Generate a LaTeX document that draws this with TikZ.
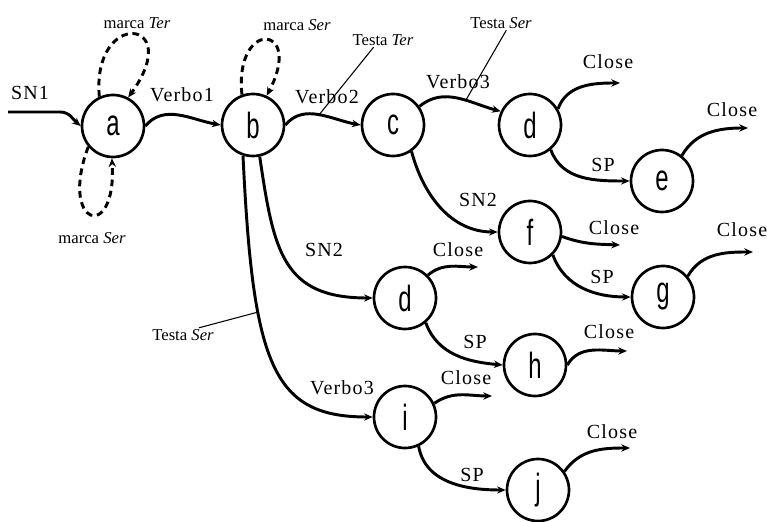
\documentclass[tikz,border=0pt]{standalone}
\usepackage{fontspec}
\setmainfont{Liberation Serif}
\newfontfamily\letterfont{Liberation Sans}
\newfontfamily\labelfont[LetterSpace=6]{Liberation Serif}
\usetikzlibrary{arrows.meta}
% tall narrow state letters
\newcommand\stlet[1]{\scalebox{0.92}[1.4]{#1}}
\begin{document}
\begin{tikzpicture}[x=0.75pt,y=0.75pt,
  state/.style={circle,draw,line width=2pt,minimum size=46.5pt,inner sep=0pt,
    font=\letterfont\fontsize{19.5}{19.5}\selectfont},
  lbl/.style={font=\labelfont\fontsize{15}{15}\selectfont,inner sep=1pt},
  note/.style={font=\fontsize{12.5}{12.5}\selectfont,inner sep=1pt},
  edge/.style={line width=2.2pt,-{Stealth[length=6.5pt,width=5.5pt]}},
  loopedge/.style={edge,dash pattern=on 5pt off 3.5pt},
  pointer/.style={line width=0.8pt},
]
\useasboundingbox (0,0) rectangle (767,521);

% states
\node[state] (a)  at (113,395) {\stlet{a}};
\node[state] (b)  at (253,396) {\stlet{b}};
\node[state] (c)  at (393,396) {\stlet{c}};
\node[state] (d)  at (530,396) {\stlet{d}};
\node[state] (e)  at (662,340) {\stlet{e}};
\node[state] (f)  at (530,289) {\stlet{f}};
\node[state] (g)  at (663,224) {\stlet{g}};
\node[state] (d2) at (405,223) {\stlet{d}};
\node[state] (h)  at (535,156) {\stlet{h}};
\node[state] (i)  at (405,104) {\stlet{i}};
\node[state] (j)  at (538,31)  {\stlet{j}};

% free ends
\coordinate (in0) at (8,409);
\coordinate (inb) at (60,409);
\coordinate (cd)  at (620,438);
\coordinate (ce)  at (748,393);
\coordinate (cf)  at (620,276);
\coordinate (cg)  at (753,269);
\coordinate (cd2) at (478,254);
\coordinate (ch)  at (627,170);
\coordinate (ci)  at (492,125);
\coordinate (cj)  at (630,73);

% labels
\node[lbl] (lsn1)  at (30,428)  {SN1};
\node[lbl] (lv1)   at (182,426) {Verbo1};
\node[lbl] (lv2)   at (327,424) {Verbo2};
\node[lbl] (lv3)   at (458,439) {Verbo3};
\node[lbl] (lcd)   at (608,459) {Close};
\node[lbl] (lspe)  at (603,356) {SP};
\node[lbl] (lce)   at (732,411) {Close};
\node[lbl] (lsn2f) at (478,321) {SN2};
\node[lbl] (lcf)   at (614,293) {Close};
\node[lbl] (lcg)   at (742,291) {Close};
\node[lbl] (lspg)  at (602,244) {SP};
\node[lbl] (lcd2)  at (458,271) {Close};
\node[lbl] (lsn2)  at (324,271) {SN2};
\node[lbl] (lsph)  at (475,179) {SP};
\node[lbl] (lch)   at (609,189) {Close};
\node[lbl] (lv3b)  at (342,133) {Verbo3};
\node[lbl] (lci)   at (466,143) {Close};
\node[lbl] (lspj)  at (472,46)  {SP};
\node[lbl] (lcj)   at (612,89)  {Close};

\node[note] (mTa) at (137,498) {marca \textit{Ter}};
\node[note] (mSa) at (92,283)  {marca \textit{Ser}};
\node[note] (mSb) at (297,496) {marca \textit{Ser}};
\node[note] (tT)  at (383,481) {Testa \textit{Ter}};
\node[note] (tS)  at (501,498) {Testa \textit{Ser}};
\node[note] (tSl) at (183,186) {Testa \textit{Ser}};

% main transitions
\draw[edge] (in0) -- (inb) to[out=0,in=140] (a.west);
\draw[edge] (a.east) to[out=50,in=170] (b.west);
\draw[edge] (b.east) to[out=50,in=170] coordinate[pos=0.5] (pv2) (c.west);
\draw[edge] (c.35) to[out=40,in=165] coordinate[pos=0.6] (pv3) (d.155);
\draw[edge] (c.-55) to[out=-75,in=180] (f.west);
\draw[edge] (d.-50) to[out=-70,in=180] (e.west);
\draw[edge] (f.-45) to[out=-70,in=180] (g.west);
\draw[edge] (b.-78) .. controls +(14,-95) and +(-90,0) .. (d2.west);
\draw[edge] (b.252) .. controls +(10,-210) and +(-100,0) .. coordinate[pos=0.32] (pv3b) (i.west);
\draw[edge] (d2.-50) to[out=-70,in=175] (h.west);
\draw[edge] (i.-65) to[out=-80,in=180] (j.west);

% closing transitions
\draw[edge] (d.30)   to[out=70,in=180] (cd);
\draw[edge] (e.52)   to[out=60,in=180] (ce);
\draw[edge] (f.-8)   to[out=-20,in=178] (cf);
\draw[edge] (g.40)   to[out=60,in=180] (cg);
\draw[edge] (d2.45)  to[out=40,in=180] (cd2);
\draw[edge] (h.east) to[out=60,in=180] (ch);
\draw[edge] (i.25)   to[out=35,in=180] (ci);
\draw[edge] (j.35)   to[out=55,in=180] (cj);

% marker loops
\draw[loopedge] (a.115) .. controls +(-8,88) and +(58,80) .. (a.62);
\draw[loopedge] (a.220) .. controls +(-30,-80) and +(5,-85) .. (a.268);
\draw[loopedge] (b.110) .. controls +(-8,76) and +(38,72) .. (b.65);

% head pointers
\draw[pointer] ([xshift=-7pt]tT.south) -- (pv2);
\draw[pointer] ([xshift=4pt]tS.south) -- (pv3);
\draw[pointer] ([xshift=12pt]tSl.north) -- (pv3b);
\end{tikzpicture}
\end{document}
